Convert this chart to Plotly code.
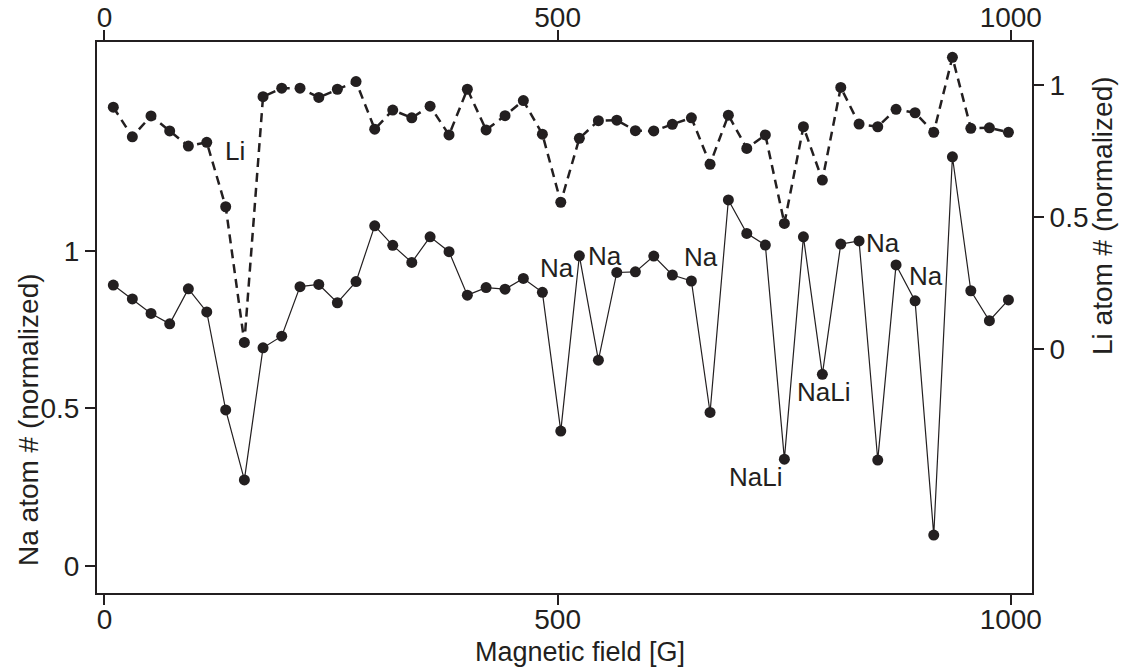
import plotly.graph_objects as go

# Magnetic field values [G]
field = [9.8, 30.8, 51.4, 72.0, 92.6, 112.9, 133.8, 154.4, 175.0, 195.6,
         215.8, 236.5, 257.0, 277.6, 298.2, 318.1, 339.1, 359.3, 380.2, 400.4,
         421.1, 442.0, 462.2, 483.2, 503.5, 524.0, 545.0, 565.3, 585.8, 606.1,
         626.6, 647.6, 668.2, 688.4, 708.7, 729.2, 750.2, 771.2, 792.1, 812.4,
         832.6, 853.2, 873.4, 894.4, 915.0, 935.6, 955.9, 976.4, 997.4]

# Na atom number (normalized), left axis
na_atoms = [0.891, 0.847, 0.801, 0.768, 0.879, 0.806, 0.495, 0.273, 0.692, 0.729,
            0.886, 0.893, 0.835, 0.902, 1.079, 1.017, 0.963, 1.044, 0.997, 0.859,
            0.883, 0.878, 0.912, 0.868, 0.428, 0.984, 0.653, 0.931, 0.933, 0.983,
            0.923, 0.904, 0.487, 1.161, 1.055, 1.018, 0.339, 1.044, 0.608, 1.021,
            1.031, 0.336, 0.955, 0.841, 0.098, 1.298, 0.873, 0.778, 0.844]

# Li atom number (normalized), right axis
li_atoms = [0.916, 0.804, 0.883, 0.826, 0.769, 0.783, 0.539, 0.025, 0.956, 0.988,
            0.988, 0.953, 0.984, 1.013, 0.833, 0.905, 0.876, 0.920, 0.811, 0.984,
            0.830, 0.884, 0.941, 0.814, 0.556, 0.798, 0.865, 0.867, 0.827, 0.826,
            0.851, 0.876, 0.700, 0.886, 0.760, 0.811, 0.476, 0.842, 0.640, 0.991,
            0.852, 0.842, 0.908, 0.895, 0.821, 1.105, 0.836, 0.838, 0.821]

# Labels (text, field, Na-axis value)
label_text = ["Li", "Na", "Na", "Na", "Na", "Na", "NaLi", "NaLi"]
label_x = [144, 499, 552, 658, 859, 906.5, 793, 718]
label_y = [1.316, 0.945, 0.983, 0.980, 1.024, 0.920, 0.552, 0.282]

x_ticks = [0, 500, 1000]
na_ticks = [0, 0.5, 1]
li_ticks = [0, 0.5, 1]

INK = "#231f20"
FONT = "Liberation Sans, Arial, sans-serif"

fig = go.Figure()
fig.add_trace(go.Scatter(
    x=field, y=li_atoms, xaxis="x", yaxis="y2", mode="lines+markers",
    line=dict(color=INK, width=2.5, dash="9px,6px"),
    marker=dict(color=INK, size=11), showlegend=False, hoverinfo="skip"))
fig.add_trace(go.Scatter(
    x=field, y=na_atoms, xaxis="x", yaxis="y", mode="lines+markers",
    line=dict(color=INK, width=1.2),
    marker=dict(color=INK, size=11), showlegend=False, hoverinfo="skip"))
# invisible trace to anchor top axis
fig.add_trace(go.Scatter(x=[field[0]], y=[na_atoms[0]], xaxis="x2", yaxis="y",
                         mode="markers", marker=dict(opacity=0), showlegend=False,
                         hoverinfo="skip"))

xr = [-8.2, 1023.4]
axis_common = dict(showline=True, linewidth=2, linecolor=INK, ticks="outside",
                   ticklen=10, tickwidth=2, tickcolor=INK, showgrid=False,
                   zeroline=False, automargin=False,
                   tickfont=dict(family=FONT, size=28, color=INK))

fig.update_layout(
    width=1125, height=669,
    margin=dict(l=97, r=93, t=42, b=76),
    paper_bgcolor="white", plot_bgcolor="white",
    font=dict(family=FONT, color=INK),
    xaxis=dict(range=xr, tickvals=x_ticks, ticktext=[str(v) for v in x_ticks],
               ticklabelstandoff=-10, **axis_common),
    xaxis2=dict(range=xr, tickvals=x_ticks, ticktext=[str(v) for v in x_ticks],
                overlaying="x", side="top", anchor="y", ticklabelstandoff=-8,
                **axis_common),
    yaxis=dict(range=[-0.0856, 1.662], tickvals=na_ticks,
               ticktext=["0", "0.5", "1"], **axis_common),
    yaxis2=dict(range=[-0.924, 1.163], tickvals=li_ticks,
                ticktext=["0", "0.5", "1"], overlaying="y", side="right",
                anchor="x", **axis_common),
)

for t, lx, ly in zip(label_text, label_x, label_y):
    fig.add_annotation(x=lx, y=ly, xref="x", yref="y", text=t, showarrow=False,
                       font=dict(family=FONT, size=26, color=INK))

fig.add_annotation(xref="paper", yref="paper", text="Magnetic field [G]",
                   x=(580 - 97) / 935, y=(593 - 652) / 551,
                   xanchor="center", yanchor="middle",
                   showarrow=False, font=dict(family=FONT, size=27, color=INK))
fig.add_annotation(xref="paper", yref="paper", text="Na atom # (normalized)",
                   x=(28 - 97) / 935, y=(593 - 420) / 551, textangle=-90,
                   xanchor="center", yanchor="middle",
                   showarrow=False, font=dict(family=FONT, size=28, color=INK))
fig.add_annotation(xref="paper", yref="paper", text="Li atom # (normalized)",
                   x=(1102 - 97) / 935, y=(593 - 216) / 551, textangle=-90,
                   xanchor="center", yanchor="middle",
                   showarrow=False, font=dict(family=FONT, size=28, color=INK))

fig.write_html("out.html")
